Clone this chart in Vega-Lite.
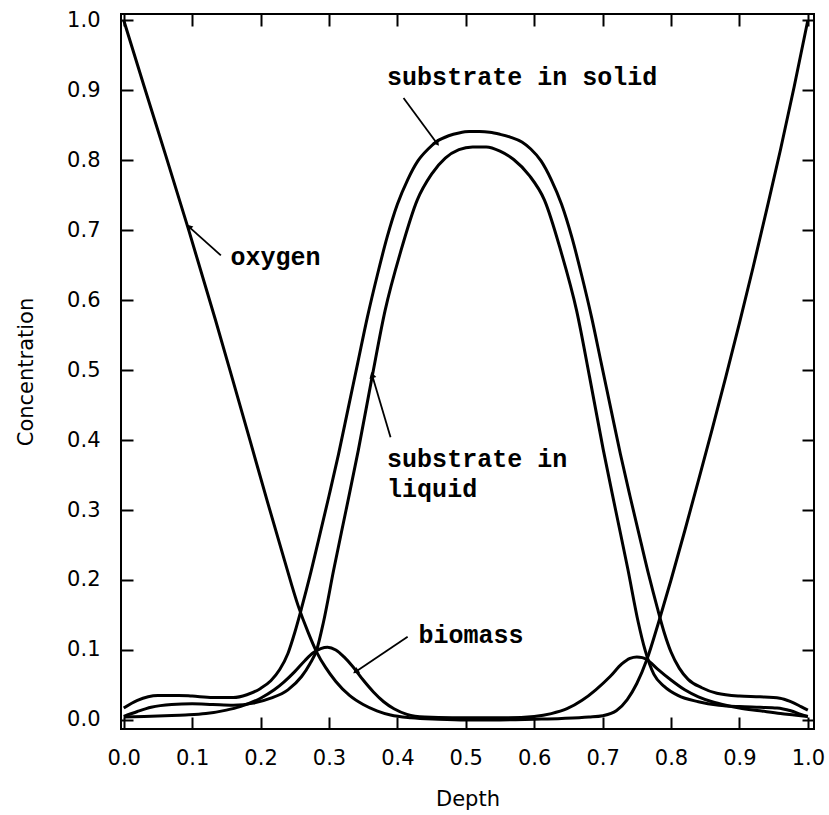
{
  "$schema": "https://vega.github.io/schema/vega-lite/v6.json",
  "width": 693,
  "height": 715,
  "autosize": "none",
  "padding": {"left": 121, "top": 14, "right": 15, "bottom": 86},
  "background": "white",
  "config": {
    "view": {"stroke": "black", "strokeWidth": 2},
    "axis": {
      "domain": false, "grid": false,
      "tickColor": "black", "tickWidth": 2, "tickSize": -12,
      "labelFont": "DejaVu Sans", "labelFontSize": 21, "labelColor": "black",
      "titleFont": "DejaVu Sans", "titleFontSize": 21, "titleFontWeight": "normal", "titleColor": "black"
    }
  },
  "datasets": {
    "curves": [
      {"series": "oxygen", "depth": 0.0, "c": 1.0},
      {"series": "oxygen", "depth": 0.03, "c": 0.905},
      {"series": "oxygen", "depth": 0.061, "c": 0.808},
      {"series": "oxygen", "depth": 0.095, "c": 0.7},
      {"series": "oxygen", "depth": 0.134, "c": 0.572},
      {"series": "oxygen", "depth": 0.159, "c": 0.487},
      {"series": "oxygen", "depth": 0.185, "c": 0.398},
      {"series": "oxygen", "depth": 0.21, "c": 0.312},
      {"series": "oxygen", "depth": 0.235, "c": 0.228},
      {"series": "oxygen", "depth": 0.255, "c": 0.163},
      {"series": "oxygen", "depth": 0.27, "c": 0.124},
      {"series": "oxygen", "depth": 0.282, "c": 0.097},
      {"series": "oxygen", "depth": 0.295, "c": 0.075},
      {"series": "oxygen", "depth": 0.31, "c": 0.055},
      {"series": "oxygen", "depth": 0.33, "c": 0.035},
      {"series": "oxygen", "depth": 0.35, "c": 0.022},
      {"series": "oxygen", "depth": 0.37, "c": 0.013},
      {"series": "oxygen", "depth": 0.39, "c": 0.007},
      {"series": "oxygen", "depth": 0.42, "c": 0.003},
      {"series": "oxygen", "depth": 0.46, "c": 0.001},
      {"series": "oxygen", "depth": 0.5, "c": 0.0},
      {"series": "oxygen", "depth": 0.55, "c": 0.0},
      {"series": "oxygen", "depth": 0.6, "c": 0.001},
      {"series": "oxygen", "depth": 0.64, "c": 0.002},
      {"series": "oxygen", "depth": 0.68, "c": 0.004},
      {"series": "oxygen", "depth": 0.7, "c": 0.006},
      {"series": "oxygen", "depth": 0.72, "c": 0.013},
      {"series": "oxygen", "depth": 0.736, "c": 0.029},
      {"series": "oxygen", "depth": 0.75, "c": 0.052},
      {"series": "oxygen", "depth": 0.765, "c": 0.087},
      {"series": "oxygen", "depth": 0.782, "c": 0.14},
      {"series": "oxygen", "depth": 0.8, "c": 0.2},
      {"series": "oxygen", "depth": 0.82, "c": 0.27},
      {"series": "oxygen", "depth": 0.84, "c": 0.342},
      {"series": "oxygen", "depth": 0.86, "c": 0.415},
      {"series": "oxygen", "depth": 0.88, "c": 0.49},
      {"series": "oxygen", "depth": 0.9, "c": 0.567},
      {"series": "oxygen", "depth": 0.92, "c": 0.647},
      {"series": "oxygen", "depth": 0.94, "c": 0.73},
      {"series": "oxygen", "depth": 0.96, "c": 0.815},
      {"series": "oxygen", "depth": 0.98, "c": 0.905},
      {"series": "oxygen", "depth": 1.0, "c": 1.0},

      {"series": "solid", "depth": 0.0, "c": 0.017},
      {"series": "solid", "depth": 0.02, "c": 0.028},
      {"series": "solid", "depth": 0.05, "c": 0.035},
      {"series": "solid", "depth": 0.08, "c": 0.035},
      {"series": "solid", "depth": 0.1, "c": 0.034},
      {"series": "solid", "depth": 0.13, "c": 0.032},
      {"series": "solid", "depth": 0.16, "c": 0.032},
      {"series": "solid", "depth": 0.18, "c": 0.036},
      {"series": "solid", "depth": 0.2, "c": 0.045},
      {"series": "solid", "depth": 0.215, "c": 0.056},
      {"series": "solid", "depth": 0.228, "c": 0.072},
      {"series": "solid", "depth": 0.24, "c": 0.095},
      {"series": "solid", "depth": 0.25, "c": 0.125},
      {"series": "solid", "depth": 0.26, "c": 0.16},
      {"series": "solid", "depth": 0.272, "c": 0.205},
      {"series": "solid", "depth": 0.285, "c": 0.258},
      {"series": "solid", "depth": 0.3, "c": 0.32},
      {"series": "solid", "depth": 0.314, "c": 0.38},
      {"series": "solid", "depth": 0.328, "c": 0.445},
      {"series": "solid", "depth": 0.342, "c": 0.51},
      {"series": "solid", "depth": 0.356, "c": 0.575},
      {"series": "solid", "depth": 0.371, "c": 0.637},
      {"series": "solid", "depth": 0.385, "c": 0.69},
      {"series": "solid", "depth": 0.4, "c": 0.737},
      {"series": "solid", "depth": 0.415, "c": 0.772},
      {"series": "solid", "depth": 0.43, "c": 0.799},
      {"series": "solid", "depth": 0.445, "c": 0.816},
      {"series": "solid", "depth": 0.458, "c": 0.827},
      {"series": "solid", "depth": 0.475, "c": 0.835},
      {"series": "solid", "depth": 0.49, "c": 0.839},
      {"series": "solid", "depth": 0.505, "c": 0.841},
      {"series": "solid", "depth": 0.52, "c": 0.841},
      {"series": "solid", "depth": 0.535, "c": 0.84},
      {"series": "solid", "depth": 0.55, "c": 0.837},
      {"series": "solid", "depth": 0.565, "c": 0.833},
      {"series": "solid", "depth": 0.582, "c": 0.826},
      {"series": "solid", "depth": 0.595, "c": 0.816},
      {"series": "solid", "depth": 0.61, "c": 0.799},
      {"series": "solid", "depth": 0.625, "c": 0.772},
      {"series": "solid", "depth": 0.64, "c": 0.737},
      {"series": "solid", "depth": 0.655, "c": 0.69},
      {"series": "solid", "depth": 0.669, "c": 0.637},
      {"series": "solid", "depth": 0.684, "c": 0.575},
      {"series": "solid", "depth": 0.698, "c": 0.51},
      {"series": "solid", "depth": 0.712, "c": 0.445},
      {"series": "solid", "depth": 0.726, "c": 0.38},
      {"series": "solid", "depth": 0.74, "c": 0.32},
      {"series": "solid", "depth": 0.755, "c": 0.258},
      {"series": "solid", "depth": 0.768, "c": 0.205},
      {"series": "solid", "depth": 0.78, "c": 0.16},
      {"series": "solid", "depth": 0.79, "c": 0.125},
      {"series": "solid", "depth": 0.8, "c": 0.097},
      {"series": "solid", "depth": 0.812, "c": 0.074},
      {"series": "solid", "depth": 0.825, "c": 0.058},
      {"series": "solid", "depth": 0.845, "c": 0.046},
      {"series": "solid", "depth": 0.867, "c": 0.038},
      {"series": "solid", "depth": 0.9, "c": 0.034},
      {"series": "solid", "depth": 0.93, "c": 0.033},
      {"series": "solid", "depth": 0.959, "c": 0.031},
      {"series": "solid", "depth": 0.975, "c": 0.026},
      {"series": "solid", "depth": 0.99, "c": 0.019},
      {"series": "solid", "depth": 1.0, "c": 0.014},

      {"series": "liquid", "depth": 0.0, "c": 0.005},
      {"series": "liquid", "depth": 0.02, "c": 0.012},
      {"series": "liquid", "depth": 0.04, "c": 0.018},
      {"series": "liquid", "depth": 0.07, "c": 0.022},
      {"series": "liquid", "depth": 0.1, "c": 0.023},
      {"series": "liquid", "depth": 0.13, "c": 0.022},
      {"series": "liquid", "depth": 0.16, "c": 0.021},
      {"series": "liquid", "depth": 0.19, "c": 0.024},
      {"series": "liquid", "depth": 0.215, "c": 0.031},
      {"series": "liquid", "depth": 0.24, "c": 0.043},
      {"series": "liquid", "depth": 0.26, "c": 0.062},
      {"series": "liquid", "depth": 0.272, "c": 0.08},
      {"series": "liquid", "depth": 0.282, "c": 0.1},
      {"series": "liquid", "depth": 0.292, "c": 0.14},
      {"series": "liquid", "depth": 0.307, "c": 0.215},
      {"series": "liquid", "depth": 0.325, "c": 0.3},
      {"series": "liquid", "depth": 0.343, "c": 0.386},
      {"series": "liquid", "depth": 0.363, "c": 0.49},
      {"series": "liquid", "depth": 0.382, "c": 0.585},
      {"series": "liquid", "depth": 0.405, "c": 0.67},
      {"series": "liquid", "depth": 0.429, "c": 0.743},
      {"series": "liquid", "depth": 0.45, "c": 0.78},
      {"series": "liquid", "depth": 0.47, "c": 0.803},
      {"series": "liquid", "depth": 0.49, "c": 0.815},
      {"series": "liquid", "depth": 0.51, "c": 0.819},
      {"series": "liquid", "depth": 0.53, "c": 0.819},
      {"series": "liquid", "depth": 0.55, "c": 0.813},
      {"series": "liquid", "depth": 0.57, "c": 0.801},
      {"series": "liquid", "depth": 0.593, "c": 0.778},
      {"series": "liquid", "depth": 0.615, "c": 0.743},
      {"series": "liquid", "depth": 0.639, "c": 0.67},
      {"series": "liquid", "depth": 0.662, "c": 0.585},
      {"series": "liquid", "depth": 0.681, "c": 0.49},
      {"series": "liquid", "depth": 0.701, "c": 0.386},
      {"series": "liquid", "depth": 0.719, "c": 0.3},
      {"series": "liquid", "depth": 0.737, "c": 0.215},
      {"series": "liquid", "depth": 0.752, "c": 0.14},
      {"series": "liquid", "depth": 0.762, "c": 0.1},
      {"series": "liquid", "depth": 0.775, "c": 0.065},
      {"series": "liquid", "depth": 0.79, "c": 0.048},
      {"series": "liquid", "depth": 0.81, "c": 0.035},
      {"series": "liquid", "depth": 0.84, "c": 0.026},
      {"series": "liquid", "depth": 0.87, "c": 0.021},
      {"series": "liquid", "depth": 0.9, "c": 0.019},
      {"series": "liquid", "depth": 0.93, "c": 0.018},
      {"series": "liquid", "depth": 0.955, "c": 0.017},
      {"series": "liquid", "depth": 0.975, "c": 0.013},
      {"series": "liquid", "depth": 0.99, "c": 0.008},
      {"series": "liquid", "depth": 1.0, "c": 0.005},

      {"series": "biomass", "depth": 0.0, "c": 0.004},
      {"series": "biomass", "depth": 0.03, "c": 0.005},
      {"series": "biomass", "depth": 0.06, "c": 0.006},
      {"series": "biomass", "depth": 0.09, "c": 0.007},
      {"series": "biomass", "depth": 0.12, "c": 0.009},
      {"series": "biomass", "depth": 0.15, "c": 0.014},
      {"series": "biomass", "depth": 0.17, "c": 0.019},
      {"series": "biomass", "depth": 0.2, "c": 0.031},
      {"series": "biomass", "depth": 0.22, "c": 0.043},
      {"series": "biomass", "depth": 0.234, "c": 0.054},
      {"series": "biomass", "depth": 0.25, "c": 0.069},
      {"series": "biomass", "depth": 0.265, "c": 0.085},
      {"series": "biomass", "depth": 0.277, "c": 0.096},
      {"series": "biomass", "depth": 0.288, "c": 0.102},
      {"series": "biomass", "depth": 0.298, "c": 0.104},
      {"series": "biomass", "depth": 0.31, "c": 0.1},
      {"series": "biomass", "depth": 0.322, "c": 0.09},
      {"series": "biomass", "depth": 0.335, "c": 0.076},
      {"series": "biomass", "depth": 0.35, "c": 0.057},
      {"series": "biomass", "depth": 0.365, "c": 0.04},
      {"series": "biomass", "depth": 0.38, "c": 0.026},
      {"series": "biomass", "depth": 0.395, "c": 0.016},
      {"series": "biomass", "depth": 0.414, "c": 0.008},
      {"series": "biomass", "depth": 0.44, "c": 0.004},
      {"series": "biomass", "depth": 0.48, "c": 0.003},
      {"series": "biomass", "depth": 0.52, "c": 0.003},
      {"series": "biomass", "depth": 0.56, "c": 0.003},
      {"series": "biomass", "depth": 0.6, "c": 0.005},
      {"series": "biomass", "depth": 0.625, "c": 0.009},
      {"series": "biomass", "depth": 0.648, "c": 0.016},
      {"series": "biomass", "depth": 0.67, "c": 0.028},
      {"series": "biomass", "depth": 0.69, "c": 0.043},
      {"series": "biomass", "depth": 0.711, "c": 0.062},
      {"series": "biomass", "depth": 0.728, "c": 0.08},
      {"series": "biomass", "depth": 0.74, "c": 0.088},
      {"series": "biomass", "depth": 0.75, "c": 0.09},
      {"series": "biomass", "depth": 0.758, "c": 0.089},
      {"series": "biomass", "depth": 0.765, "c": 0.086},
      {"series": "biomass", "depth": 0.78, "c": 0.073},
      {"series": "biomass", "depth": 0.8, "c": 0.057},
      {"series": "biomass", "depth": 0.82, "c": 0.043},
      {"series": "biomass", "depth": 0.84, "c": 0.033},
      {"series": "biomass", "depth": 0.86, "c": 0.026},
      {"series": "biomass", "depth": 0.88, "c": 0.021},
      {"series": "biomass", "depth": 0.9, "c": 0.017},
      {"series": "biomass", "depth": 0.93, "c": 0.013},
      {"series": "biomass", "depth": 0.96, "c": 0.009},
      {"series": "biomass", "depth": 0.98, "c": 0.007},
      {"series": "biomass", "depth": 1.0, "c": 0.005}
    ],
    "labels": [
      {"text": "substrate in solid", "depth": 0.385, "c": 0.907},
      {"text": "oxygen", "depth": 0.156, "c": 0.65},
      {"text": "substrate in", "depth": 0.385, "c": 0.362},
      {"text": "liquid", "depth": 0.385, "c": 0.318},
      {"text": "biomass", "depth": 0.431, "c": 0.11}
    ],
    "arrows": [
      {"name": "solid", "depth": 0.409, "c": 0.889, "depth2": 0.458, "c2": 0.824},
      {"name": "oxygen", "depth": 0.142, "c": 0.664, "depth2": 0.095, "c2": 0.705},
      {"name": "liquid", "depth": 0.39, "c": 0.404, "depth2": 0.363, "c2": 0.493},
      {"name": "biomass", "depth": 0.415, "c": 0.119, "depth2": 0.339, "c2": 0.069}
    ]
  },
  "resolve": {"axis": {"x": "independent", "y": "independent"}},
  "layer": [
    {
      "data": {"name": "curves"},
      "mark": {"type": "line", "color": "black", "strokeWidth": 3, "interpolate": "monotone"},
      "encoding": {
        "x": {"field": "depth", "type": "quantitative",
              "scale": {"domain": [-0.004, 1.009], "nice": false, "zero": false},
              "axis": {"orient": "bottom", "values": [0, 0.1, 0.2, 0.3, 0.4, 0.5, 0.6, 0.7, 0.8, 0.9, 1.0], "format": ".1f", "title": "Depth", "labelPadding": 30, "titlePadding": 20}},
        "y": {"field": "c", "type": "quantitative",
              "scale": {"domain": [-0.013, 1.009], "nice": false, "zero": false},
              "axis": {"orient": "left", "values": [0, 0.1, 0.2, 0.3, 0.4, 0.5, 0.6, 0.7, 0.8, 0.9, 1.0], "format": ".1f", "title": "Concentration", "labelPadding": 33, "titlePadding": 30}},
        "detail": {"field": "series"}
      }
    },
    {
      "data": {"name": "labels"},
      "mark": {"type": "point", "opacity": 0},
      "encoding": {
        "x": {"field": "depth", "type": "quantitative",
              "axis": {"orient": "top", "values": [0, 0.1, 0.2, 0.3, 0.4, 0.5, 0.6, 0.7, 0.8, 0.9, 1.0], "labels": false, "title": null}},
        "y": {"field": "c", "type": "quantitative",
              "axis": {"orient": "right", "values": [0, 0.1, 0.2, 0.3, 0.4, 0.5, 0.6, 0.7, 0.8, 0.9, 1.0], "labels": false, "title": null}}
      }
    },
    {
      "data": {"name": "labels"},
      "mark": {"type": "text", "font": "Liberation Mono", "fontWeight": "bold", "fontSize": 25, "align": "left", "baseline": "alphabetic", "color": "black"},
      "encoding": {
        "x": {"field": "depth", "type": "quantitative", "axis": null},
        "y": {"field": "c", "type": "quantitative", "axis": null},
        "text": {"field": "text"}
      }
    },
    {
      "data": {"name": "arrows"},
      "mark": {"type": "rule", "color": "black", "strokeWidth": 1.8},
      "encoding": {
        "x": {"field": "depth", "type": "quantitative", "axis": null},
        "y": {"field": "c", "type": "quantitative", "axis": null},
        "x2": {"field": "depth2"},
        "y2": {"field": "c2"}
      }
    },
    {
      "data": {"name": "arrows"},
      "transform": [{"filter": "datum.name == 'solid'"}],
      "mark": {"type": "point", "shape": "triangle-up", "filled": true, "color": "black", "size": 50, "angle": 143, "opacity": 1},
      "encoding": {
        "x": {"field": "depth2", "type": "quantitative", "axis": null},
        "y": {"field": "c2", "type": "quantitative", "axis": null}
      }
    },
    {
      "data": {"name": "arrows"},
      "transform": [{"filter": "datum.name == 'oxygen'"}],
      "mark": {"type": "point", "shape": "triangle-up", "filled": true, "color": "black", "size": 50, "angle": 316, "opacity": 1},
      "encoding": {
        "x": {"field": "depth2", "type": "quantitative", "axis": null},
        "y": {"field": "c2", "type": "quantitative", "axis": null}
      }
    },
    {
      "data": {"name": "arrows"},
      "transform": [{"filter": "datum.name == 'liquid'"}],
      "mark": {"type": "point", "shape": "triangle-up", "filled": true, "color": "black", "size": 50, "angle": 344, "opacity": 1},
      "encoding": {
        "x": {"field": "depth2", "type": "quantitative", "axis": null},
        "y": {"field": "c2", "type": "quantitative", "axis": null}
      }
    },
    {
      "data": {"name": "arrows"},
      "transform": [{"filter": "datum.name == 'biomass'"}],
      "mark": {"type": "point", "shape": "triangle-up", "filled": true, "color": "black", "size": 50, "angle": 236, "opacity": 1},
      "encoding": {
        "x": {"field": "depth2", "type": "quantitative", "axis": null},
        "y": {"field": "c2", "type": "quantitative", "axis": null}
      }
    }
  ]
}
